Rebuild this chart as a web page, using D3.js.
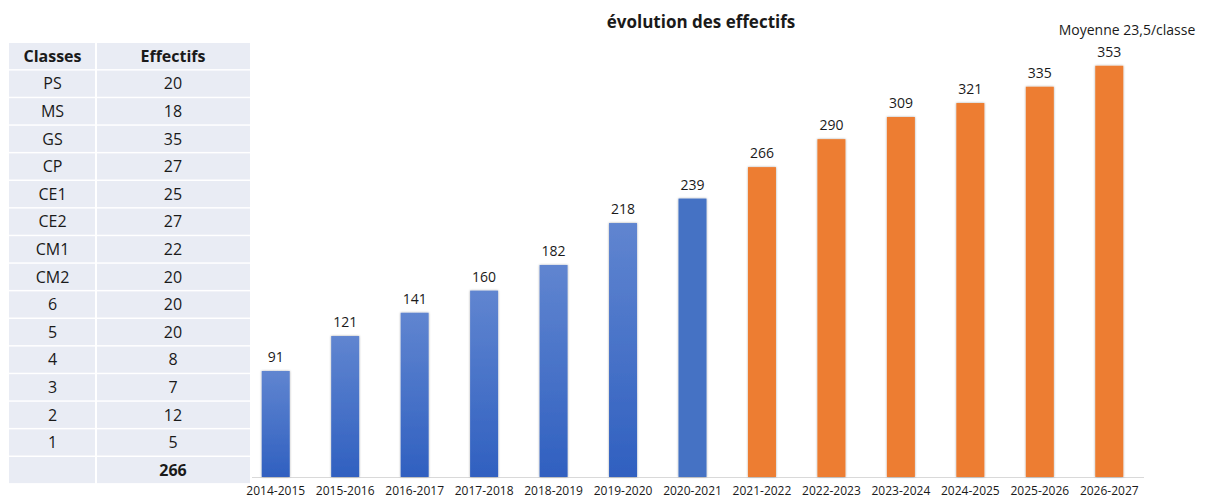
<!DOCTYPE html>
<html>
<head>
<meta charset="utf-8">
<script src="https://cdn.jsdelivr.net/npm/d3@7"></script>
<style>
  body { margin: 0; background: #fff; }
  text { font-family: "Open Sans", "Noto Sans", sans-serif; fill: #1a1a1a; }
</style>
</head>
<body>
<svg id="chart" width="1210" height="500"></svg>
<script>
// tableau des classes
var classes = ["PS", "MS", "GS", "CP", "CE1", "CE2", "CM1", "CM2", "6", "5", "4", "3", "2", "1"];
var effectifs = [20, 18, 35, 27, 25, 27, 22, 20, 20, 20, 8, 7, 12, 5];
var total = 266;

// histogramme
var annees = ["2014-2015", "2015-2016", "2016-2017", "2017-2018", "2018-2019", "2019-2020", "2020-2021",
              "2021-2022", "2022-2023", "2023-2024", "2024-2025", "2025-2026", "2026-2027"];
var valeurs = [91, 121, 141, 160, 182, 218, 239, 266, 290, 309, 321, 335, 353];
var prevision = [false, false, false, false, false, false, false, true, true, true, true, true, true];

var svg = d3.select("#chart");

var defs = svg.append("defs");
var grad = defs.append("linearGradient")
    .attr("id", "bleu")
    .attr("x1", 0).attr("y1", 0).attr("x2", 0).attr("y2", 1);
grad.append("stop").attr("offset", "0%").attr("stop-color", "#6085d0");
grad.append("stop").attr("offset", "100%").attr("stop-color", "#3060c0");

var ombre = defs.append("filter").attr("id", "ombre")
    .attr("x", "-20%").attr("y", "-5%").attr("width", "140%").attr("height", "110%");
ombre.append("feDropShadow")
    .attr("dx", 0).attr("dy", 0).attr("stdDeviation", 1)
    .attr("flood-color", "#000").attr("flood-opacity", 0.35);

// --- table ---
var tableX = 9, colX = 96, tableR = 250, tableTop = 43, rowH = 27.6;
var lignes = [{c: "Classes", e: "Effectifs", head: true}];
classes.forEach(function(c, i) { lignes.push({c: c, e: effectifs[i]}); });
lignes.push({c: "", e: total, head: true});

var rows = svg.append("g").selectAll("g")
    .data(lignes)
    .enter()
    .append("g")
    .attr("transform", function(d, i) { return "translate(0," + (tableTop + i * rowH) + ")"; });

rows.append("rect")
    .attr("x", tableX).attr("y", 0)
    .attr("width", colX - tableX - 1).attr("height", rowH - 1.5)
    .attr("fill", "#e9ecf4");
rows.append("rect")
    .attr("x", colX + 1).attr("y", 0)
    .attr("width", tableR - colX - 1).attr("height", rowH - 1.5)
    .attr("fill", "#e9ecf4");

rows.append("text")
    .attr("x", (tableX + colX) / 2).attr("y", rowH / 2 + 5)
    .attr("text-anchor", "middle")
    .attr("font-size", 16)
    .attr("font-weight", function(d) { return d.head ? "bold" : "normal"; })
    .text(function(d) { return d.c; });
rows.append("text")
    .attr("x", (colX + tableR) / 2).attr("y", rowH / 2 + 5)
    .attr("text-anchor", "middle")
    .attr("font-size", 16)
    .attr("font-weight", function(d) { return d.head ? "bold" : "normal"; })
    .text(function(d) { return d.e; });

// --- bars ---
var x = d3.scaleBand().domain(annees).range([241, 1144]).padding(0);
var y = d3.scaleLinear().domain([0, 400]).range([477, 11]);
var barW = 28;

svg.append("line")
    .attr("x1", 252).attr("x2", 1144)
    .attr("y1", y(0) + 0.5).attr("y2", y(0) + 0.5)
    .attr("stroke", "#d9d9d9");

var bars = svg.append("g").selectAll("rect")
    .data(valeurs)
    .enter()
    .append("rect")
    .attr("x", function(d, i) { return x(annees[i]) + x.bandwidth() / 2 - barW / 2; })
    .attr("y", function(d) { return y(d); })
    .attr("width", barW)
    .attr("height", function(d) { return y(0) - y(d); })
    .attr("filter", "url(#ombre)")
    .attr("fill", function(d, i) {
        if (prevision[i]) return "#ed7d31";
        if (i === 6) return "#4472c4";
        return "url(#bleu)";
    });

svg.append("g").selectAll("text")
    .data(valeurs)
    .enter()
    .append("text")
    .attr("x", function(d, i) { return x(annees[i]) + x.bandwidth() / 2; })
    .attr("y", function(d) { return y(d) - 9; })
    .attr("text-anchor", "middle")
    .attr("font-size", 14)
    .text(function(d) { return d; });

var axe = svg.append("g")
    .attr("transform", "translate(0," + y(0) + ")")
    .call(d3.axisBottom(x).tickSize(0).tickPadding(9));
axe.select(".domain").remove();
axe.selectAll("text")
    .attr("font-size", 12)
    .style("font-family", "\"Open Sans\", \"Noto Sans\", sans-serif")
    .attr("fill", "#1a1a1a");

svg.append("text")
    .attr("x", 701).attr("y", 28)
    .attr("text-anchor", "middle")
    .attr("font-size", 17)
    .attr("font-weight", "bold")
    .text("évolution des effectifs");

svg.append("text")
    .attr("x", 1127).attr("y", 35)
    .attr("text-anchor", "middle")
    .attr("font-size", 14)
    .text("Moyenne 23,5/classe");
</script>
</body>
</html>
